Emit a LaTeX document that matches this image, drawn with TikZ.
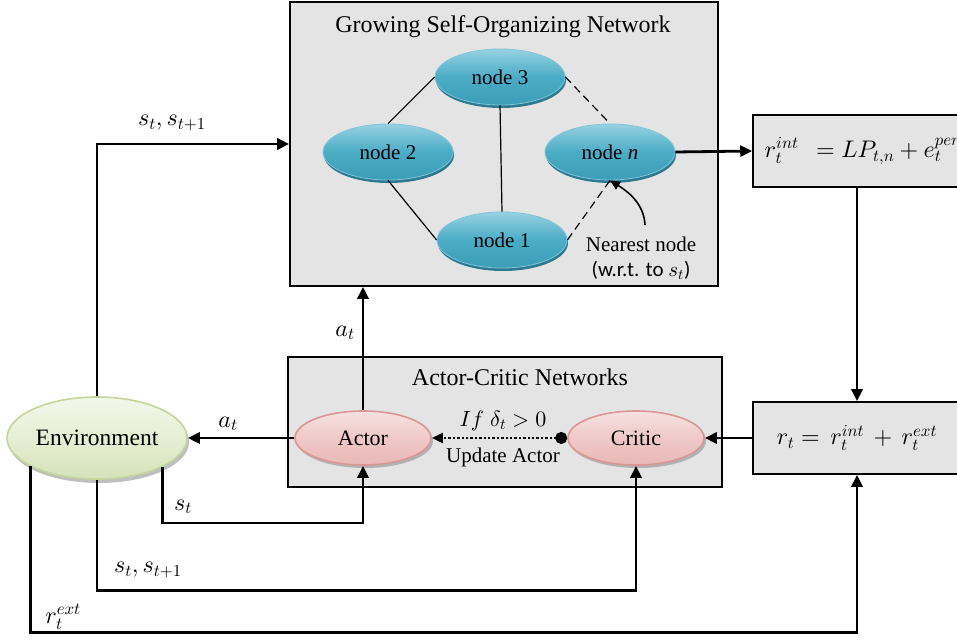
\documentclass[tikz,border=0pt]{standalone}
\usepackage{fontspec}
\setmainfont{Liberation Serif}
\newfontfamily\labelsans{Carlito}
\usetikzlibrary{shapes.geometric,shadows,arrows.meta,calc}
% math fonts at any size
\DeclareFontShape{OML}{cmm}{m}{it}{<->cmmi10}{}
\DeclareFontShape{OMS}{cmsy}{m}{n}{<->cmsy10}{}
\DeclareFontShape{OT1}{cmr}{m}{n}{<->cmr10}{}

\definecolor{panelgray}{HTML}{E4E4E4}
\definecolor{bluetop}{HTML}{96D2E2}
\definecolor{bluemid}{HTML}{4BACC6}
\definecolor{bluebot}{HTML}{3C9DB8}
\definecolor{blueline}{HTML}{7FC4D8}
\definecolor{blueshadow}{HTML}{2C7A90}
\definecolor{pinktop}{HTML}{F6E2E1}
\definecolor{pinkmid}{HTML}{EFC9C8}
\definecolor{pinkbot}{HTML}{E8B8B7}
\definecolor{pinkline}{HTML}{D99694}
\definecolor{greentop}{HTML}{F3F7EA}
\definecolor{greenmid}{HTML}{E6EED4}
\definecolor{greenbot}{HTML}{D5E2BA}
\definecolor{greenline}{HTML}{C3D69B}

\begin{document}
\begin{tikzpicture}[x=1pt,y=-1pt,
  font=\fontsize{22}{26}\selectfont,
  conn/.style={line width=2.8pt,-{Triangle[length=12pt,width=11pt]}},
  panel/.style={rectangle,draw,line width=1.6pt,fill=panelgray,inner sep=0pt},
  gnode/.style={ellipse,draw=blueline,line width=0.8pt,
    top color=bluetop,bottom color=bluebot,middle color=bluemid,
    minimum width=130,minimum height=56,inner sep=0pt,
    font=\fontsize{21}{24}\selectfont,
    drop shadow={shadow xshift=1pt,shadow yshift=-3pt,fill=blueshadow,opacity=1}},
  acnode/.style={ellipse,draw=pinkline,line width=1.6pt,
    top color=pinktop,bottom color=pinkbot,middle color=pinkmid,
    minimum width=136,minimum height=54,inner sep=0pt,
    drop shadow={shadow xshift=2pt,shadow yshift=-3pt,fill=black!30,opacity=1}},
  envnode/.style={ellipse,draw=greenline,line width=1.6pt,
    top color=greentop,bottom color=greenbot,middle color=greenmid,
    minimum width=180,minimum height=82,inner sep=0pt,
    font=\fontsize{23.5}{27}\selectfont,
    drop shadow={shadow xshift=2pt,shadow yshift=-4pt,fill=black!25,opacity=1}},
  link/.style={line width=1.2pt},
  dlink/.style={line width=1.2pt,dash pattern=on 8pt off 5pt},
  lbl/.style={inner sep=1pt,font=\fontsize{24}{28}\selectfont}]

\useasboundingbox (0,0) rectangle (957,639);
\clip (0,0) rectangle (957,639);

% panels
\node[panel,minimum width=428,minimum height=284] (gson) at (504,144) {};
\node at (503,27) [font=\fontsize{24}{27}\selectfont] {Growing Self-Organizing Network};
\node[panel,minimum width=434,minimum height=130] (ac) at (505,422) {};
\node at (520,377) [font=\fontsize{24}{27}\selectfont] {Actor-Critic Networks};

% reward boxes
\node[panel,minimum width=208,minimum height=72] (rint) at (857,151) {};
\node[anchor=west,font=\fontsize{24}{28}\selectfont] (rinttxt) at ([xshift=9pt]rint.west)
  {$r_t^{int}\;\,= LP_{t,n} + e_t^{per}$};
\node[panel,minimum width=208,minimum height=72,font=\fontsize{24}{28}\selectfont] (rt) at (857,438)
  {$r_t =\, r_t^{int} \,+\, r_t^{ext}$};

% growing network
\node[gnode] (n3) at (500,77) {node 3};
\node[gnode] (n2) at (388,152) {node 2};
\node[gnode] (nn) at (610,152) {node \textit{n}};
\node[gnode] (n1) at (502,240) {node 1};

\draw[link] (n2.north) -- (n3.west);
\draw[link] (n3.south) -- (n1.north);
\draw[link] (n2.south) -- (n1.west);
\draw[dlink] (n3.east) -- (nn.north);
\draw[dlink] (n1.east) -- (nn.south);

\node[align=center,font=\fontsize{21}{25}\selectfont] (near) at (641,258)
  {Nearest node\\{\labelsans (w.r.t. to $s_t$)}};
\draw[line width=1.6pt,-{Triangle[length=10pt,width=9pt]}]
  ($(near.north)+(4,-8)$) .. controls (644,203) and (627,191) .. (nn.south);

% actor-critic
\node[acnode] (actor) at (363,438) {Actor};
\node[acnode] (critic) at (636,438) {Critic};
\draw[line width=2.4pt,dotted,{Circle[length=12pt]}-{Triangle[length=11pt,width=10pt]}]
  (critic.west) -- (actor.east);
\node[inner sep=1pt] at (503,421) {$If\;\delta_t > 0$};
\node[inner sep=1pt,font=\fontsize{21}{24}\selectfont] at (503,457) {Update Actor};

% environment
\node[envnode] (env) at (97,438) {Environment};

% connectors
\draw[conn] (nn.east) -- (rint.west);
\draw[conn] (rint.south) -- (rt.north);
\draw[conn] (rt.west) -- (critic.east);
\draw[conn] (actor.north) -- (actor.north |- gson.south);
\node[lbl] at (345,333) {$a_t$};
\draw[conn] (actor.west) -- (env.east);
\node[lbl] at (228,424) {$a_t$};
\draw[conn] (env.north) |- (gson.west);
\node[lbl] at (172,123) {$s_t, s_{t+1}$};
\draw[conn] (env.-24.4) -- ++(0,56) -| (actor.south);
\node[lbl] at (183,507) {$s_t$};
\draw[conn] (env.south) -- ++(0,111) -| (critic.south);
\node[lbl] at (148,570) {$s_t, s_{t+1}$};
\draw[conn] (env.203.6) -- ++(0,166) -| (rt.south);
\node[lbl] at (63,617) {$r_t^{ext}$};
\end{tikzpicture}
\end{document}
